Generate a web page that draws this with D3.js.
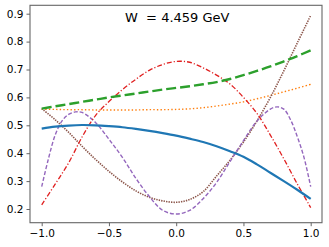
<!DOCTYPE html>
<html><head><meta charset="utf-8">
<script src="https://cdn.jsdelivr.net/npm/d3@7"></script>
<style>body{margin:0;background:#fff}svg{display:block}text{font-family:"DejaVu Sans",sans-serif;fill:#000}</style>
</head><body><svg id="c" width="329" height="247"></svg>
<script>
const xs = [-1,-0.9,-0.8,-0.7,-0.6,-0.5,-0.4,-0.3,-0.2,-0.1,0,0.1,0.2,0.3,0.4,0.5,0.6,0.7,0.8,0.9,1];
const blue   = [0.488,0.495,0.499,0.501,0.500,0.497,0.493,0.487,0.480,0.472,0.463,0.452,0.440,0.425,0.407,0.387,0.360,0.330,0.300,0.269,0.236];
const orange = [0.558,0.557,0.556,0.556,0.555,0.555,0.555,0.555,0.556,0.556,0.557,0.559,0.563,0.569,0.576,0.584,0.595,0.607,0.620,0.633,0.647];
const green  = [0.560,0.568,0.576,0.584,0.592,0.600,0.607,0.614,0.621,0.628,0.634,0.640,0.647,0.655,0.666,0.680,0.695,0.711,0.729,0.748,0.769];
const red    = [0.215,0.289,0.365,0.458,0.535,0.585,0.628,0.665,0.697,0.718,0.729,0.726,0.706,0.680,0.648,0.600,0.543,0.465,0.380,0.290,0.205];
const purpleX = [-1,-0.95,-0.9,-0.85,-0.8,-0.75,-0.7,-0.6,-0.5,-0.4,-0.3,-0.2,-0.1,0,0.1,0.2,0.3,0.4,0.5,0.6,0.7,0.75,0.8,0.85,0.9,0.95,1];
const purple = [0.280,0.380,0.465,0.515,0.539,0.548,0.546,0.510,0.450,0.385,0.310,0.245,0.195,0.182,0.195,0.237,0.295,0.370,0.445,0.515,0.558,0.566,0.558,0.520,0.460,0.385,0.280];
const brown  = [0.560,0.520,0.475,0.425,0.378,0.335,0.297,0.265,0.242,0.229,0.224,0.234,0.262,0.318,0.375,0.440,0.515,0.600,0.695,0.795,0.894];
const xTicks = [-1.0,-0.5,0.0,0.5,1.0];
const yTicks = [0.2,0.3,0.4,0.5,0.6,0.7,0.8,0.9];
const title = "W  = 4.459 GeV";

const svg = d3.select("#c");
const x = d3.scaleLinear().domain([-1,1]).range([41.7,310.7]);
const y = d3.scaleLinear().domain([0.2,0.9]).range([209,13.7]);
const L=30, R=322, T=5.3, B=222.7;

const fmt = d => d3.format(".1f")(d).replace("-","\u2212");
const gx = svg.append("g").attr("transform",`translate(0,${B})`)
  .call(d3.axisBottom(x).tickValues(xTicks).tickFormat(fmt).tickSize(3.5).tickPadding(3));
const gy = svg.append("g").attr("transform",`translate(${L},0)`)
  .call(d3.axisLeft(y).tickValues(yTicks).tickFormat(fmt).tickSize(3.5).tickPadding(3));
[gx,gy].forEach(g=>{
  g.select(".domain").remove();
  g.selectAll(".tick line").attr("stroke","#555").attr("stroke-width",0.9);
  g.selectAll(".tick text").attr("font-size",10.5).attr("font-family","DejaVu Sans").attr("fill","#000");
});

const line = (X,Y)=>d3.line().x((d,i)=>x(X[i])).y(d=>y(d)).curve(d3.curveCatmullRom.alpha(0.5))(Y);
const series = [
  {X:xs,Y:orange,c:"#ff7f0e",w:1.4,da:"1.4 2.2"},
  {X:xs,Y:brown,c:"#8c564b",w:1.6,da:"1.4 1.1"},
  {X:purpleX,Y:purple,c:"#9467bd",w:1.4,da:"4 2"},
  {X:xs,Y:red,c:"#e02020",w:1.3,da:"5 2 1.2 2"},
  {X:xs,Y:green,c:"#2ca02c",w:2.4,da:"10 4"},
  {X:xs,Y:blue,c:"#1f77b4",w:2.2,da:null},
];
series.forEach(s=>{
  const p = svg.append("path").attr("d",line(s.X,s.Y)).attr("fill","none")
    .attr("stroke",s.c).attr("stroke-width",s.w);
  if(s.da) p.attr("stroke-dasharray",s.da);
});

svg.append("rect").attr("x",L).attr("y",T).attr("width",R-L).attr("height",B-T)
  .attr("fill","none").attr("stroke","#666").attr("stroke-width",1.1);

svg.append("text").attr("x",125).attr("y",21.5).attr("font-size",13)
  .style("white-space","pre").text(title);
</script></body></html>
